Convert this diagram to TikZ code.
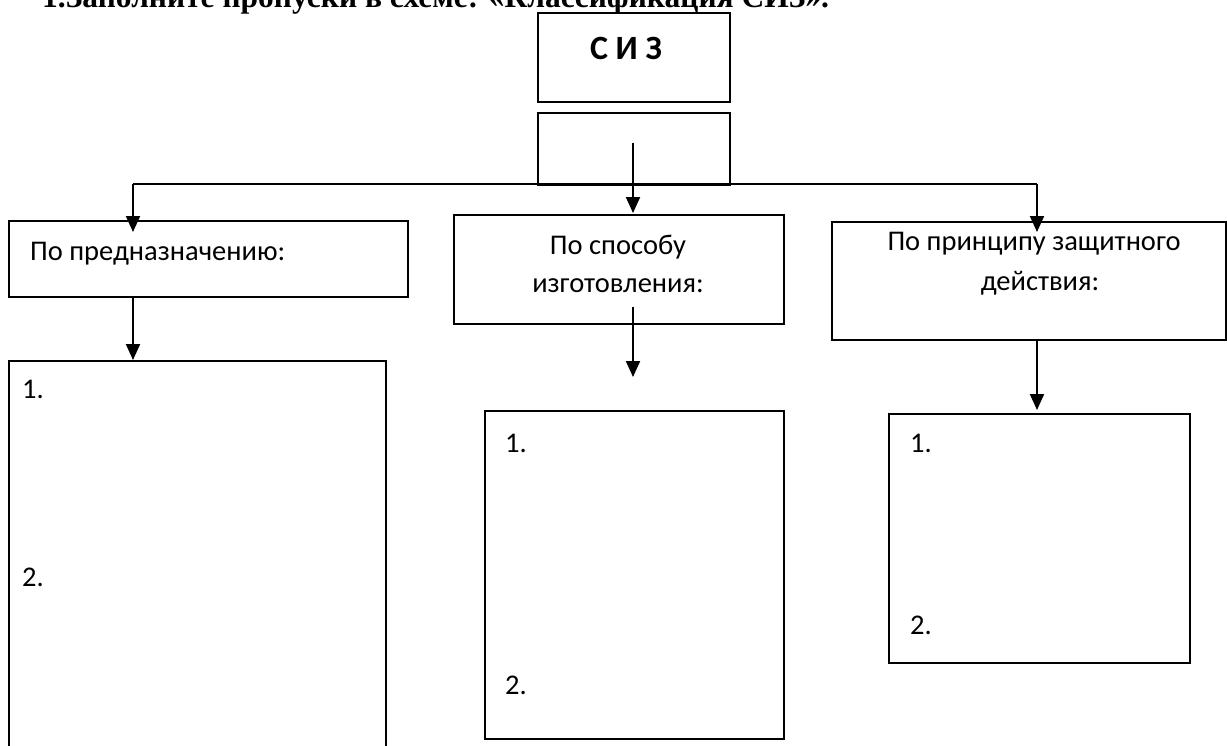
\documentclass[tikz,border=0pt]{standalone}
\usepackage{fontspec}
\setmainfont{Carlito}
\newfontfamily\titlefont{Liberation Serif}
\usetikzlibrary{arrows.meta}
\begin{document}
\begin{tikzpicture}[x=1pt,y=-1pt,
  boxst/.style={draw, line width=2pt, anchor=north west, inner sep=0pt},
  lbl/.style={anchor=base west, inner sep=0pt, font=\fontsize{28.5}{36}\selectfont},
  clbl/.style={anchor=base, inner sep=0pt, font=\fontsize{28.5}{36}\selectfont},
  arr/.style={line width=2pt, -{Triangle[length=16pt,width=14pt]}},
  ln/.style={line width=2pt}
]
\useasboundingbox (0,0) rectangle (1227,745);
\fill[white] (0,0) rectangle (1227,745);
% title (cut at the top)
\node[anchor=base west, inner sep=0pt, font=\titlefont\bfseries\fontsize{31.5}{34}\selectfont] (title) at (42,7.5) {1.Заполните пропуски в схеме: «Классификация СИЗ».};
% top boxes
\node[boxst, minimum width=192pt, minimum height=89pt] (siz) at (537,12) {};
\node[anchor=base, inner sep=0pt, font=\bfseries\fontsize{34}{38}\selectfont] (siztxt) at (626,59) {С И З};
\node[boxst, minimum width=192pt, minimum height=72pt] (blank) at (537,112) {};
% level 1 boxes
\node[boxst, minimum width=399pt, minimum height=76pt] (A) at (8,220) {};
\node[lbl] (Atxt) at (30,260) {По предназначению:};
\node[boxst, minimum width=330pt, minimum height=109pt] (B) at (453,214) {};
\node[clbl] (Btxt1) at (618,254) {По способу};
\node[clbl] (Btxt2) at (618,292) {изготовления:};
\node[boxst, minimum width=394pt, minimum height=118pt] (C) at (831,221) {};
\node[clbl] (Ctxt1) at (1034,250) {По принципу защитного};
\node[clbl] (Ctxt2) at (1040,290) {действия:};
% level 2 boxes
\node[boxst, minimum width=377pt, minimum height=400pt] (A2) at (8,360) {};
\node[lbl] (A21) at (22,398) {1.};
\node[lbl] (A22) at (22,586) {2.};
\node[boxst, minimum width=299pt, minimum height=328pt] (B2) at (484,410) {};
\node[lbl] (B21) at (505,452) {1.};
\node[lbl] (B22) at (505,694) {2.};
\node[boxst, minimum width=301pt, minimum height=249pt] (C2) at (888,413) {};
\node[lbl] (C21) at (910,452) {1.};
\node[lbl] (C22) at (910,634) {2.};
% connector coordinates
\coordinate (bstart) at (633,143);
\coordinate (Ltop) at (133,184);
\coordinate (Rtop) at (1037,184);
\coordinate (Atip) at (133,232);
\coordinate (Btip) at (633,213);
\coordinate (Ctip) at (1037,232);
\coordinate (Afrom) at (133,296);
\coordinate (A2tip) at (133,360);
\coordinate (Bfrom) at (633,307);
\coordinate (B2tip) at (633,377);
\coordinate (Cfrom) at (1037,339);
\coordinate (C2tip) at (1037,410);
% connectors
\draw[ln] (Ltop) -- (Rtop);
\draw[arr] (bstart) -- (Btip);
\draw[arr] (Ltop) -- (Atip);
\draw[arr] (Rtop) -- (Ctip);
\draw[arr] (Afrom) -- (A2tip);
\draw[arr] (Bfrom) -- (B2tip);
\draw[arr] (Cfrom) -- (C2tip);
\end{tikzpicture}
\end{document}
